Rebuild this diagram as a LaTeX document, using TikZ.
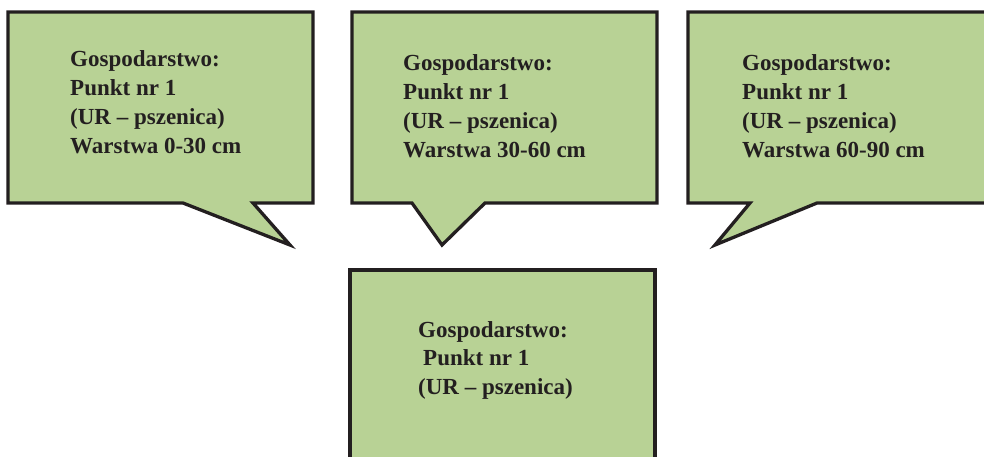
\documentclass[tikz,border=0pt]{standalone}
\usepackage{fontspec}
\setmainfont{Liberation Serif}
\definecolor{boxgreen}{RGB}{184,210,149}
\definecolor{inkdark}{RGB}{35,31,32}
\tikzset{
  callout/.style={fill=boxgreen, draw=inkdark, line width=3.3pt, line join=miter},
  label/.style={anchor=north west, align=left, text=inkdark, inner sep=0pt,
    font=\fontsize{23}{28.8}\selectfont\bfseries}
}
\begin{document}
\begin{tikzpicture}[x=1pt,y=-1pt]
\useasboundingbox (0,0) rectangle (984,456);
\clip (0,0) rectangle (984,456);
% box 1
\path[callout] (8,12) -- (313,12) -- (313,203) -- (253,203) -- (290,245) -- (183,203) -- (8,203) -- cycle;
\node[label] (t1) at (70,50.5) {Gospodarstwo:\\Punkt nr 1\\(UR – pszenica)\\Warstwa 0-30 cm};
% box 2
\path[callout] (352,12) -- (657,12) -- (657,203) -- (485,203) -- (442,245) -- (412,203) -- (352,203) -- cycle;
\node[label] (t2) at (403,54.5) {Gospodarstwo:\\Punkt nr 1\\(UR – pszenica)\\Warstwa 30-60 cm};
% box 3
\path[callout] (688,12) -- (995,12) -- (995,203) -- (817,203) -- (715,245) -- (750,203) -- (688,203) -- cycle;
\node[label] (t3) at (742,54.5) {Gospodarstwo:\\Punkt nr 1\\(UR – pszenica)\\Warstwa 60-90 cm};
% box 4
\path[callout] (350,270) -- (655,270) -- (655,470) -- (350,470) -- cycle;
\node[label] (t4) at (418,321) {Gospodarstwo:\\\hspace*{5pt}Punkt nr 1\\(UR – pszenica)};
\end{tikzpicture}
\end{document}
